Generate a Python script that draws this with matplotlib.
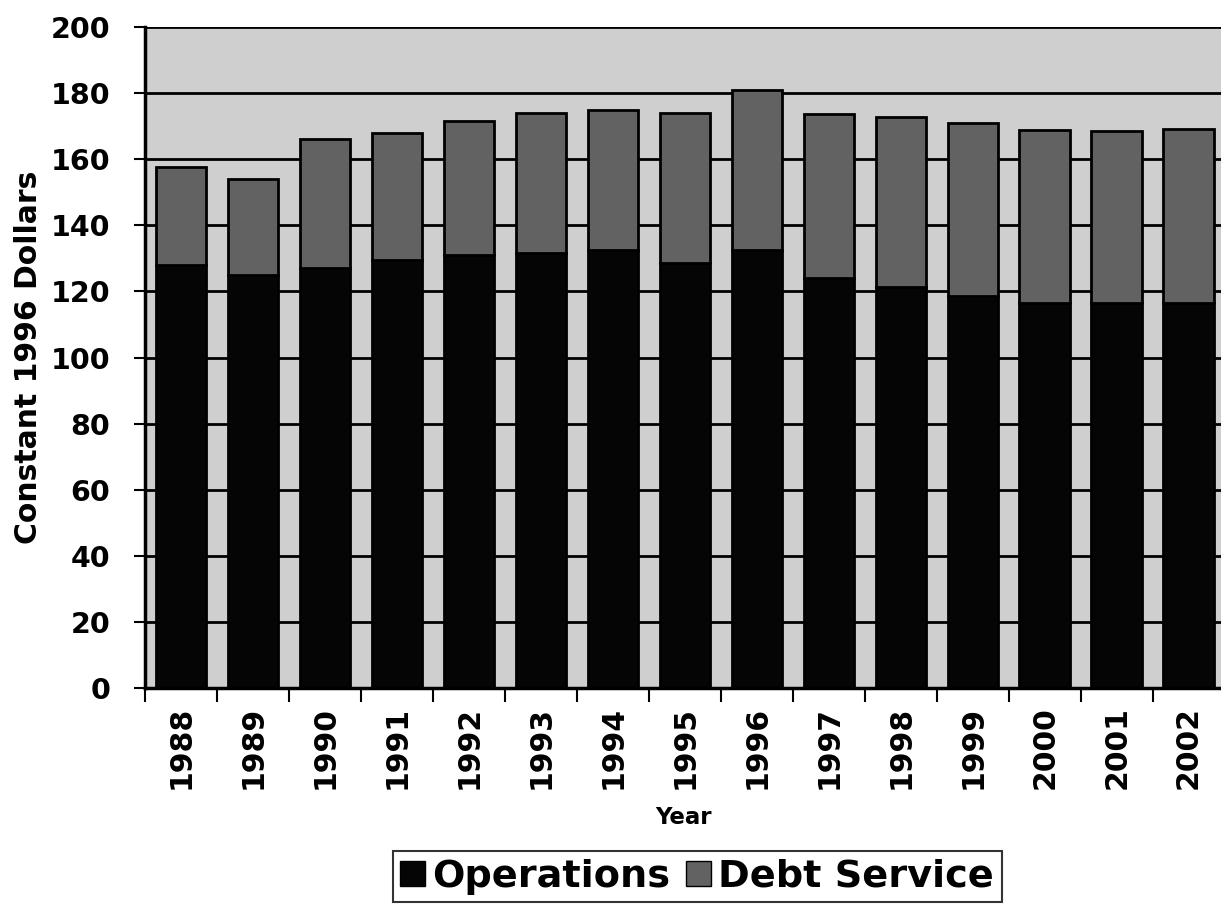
import numpy as np
import matplotlib.pyplot as plt
from matplotlib.patches import Patch

# ---- donnees (dollars constants 1996) ----
years = ["1988", "1989", "1990", "1991", "1992", "1993", "1994", "1995",
         "1996", "1997", "1998", "1999", "2000", "2001", "2002"]
operations = [128, 125, 127, 129.5, 131, 131.6, 132.5, 128.6,
              132.5, 124, 121.3, 118.6, 116.5, 116.5, 116.5]
totals = [157.6, 154, 166, 168, 171.6, 174, 175, 174,
          181, 173.7, 172.8, 171, 168.8, 168.5, 169]
debt_service = [t - o for t, o in zip(totals, operations)]

plt.rcParams['font.family'] = ['DejaVu Sans']
plt.rcParams['font.weight'] = 'bold'

fig = plt.figure(figsize=(12.21, 9.22), dpi=100)
ax = fig.add_axes([0.1188, 0.2538, 0.8812, 0.7169])

x = np.arange(len(years))
col_ops = "#050505"
col_debt = "#626262"

ax.set_facecolor("#cfcfcf")
ax.set_axisbelow(True)
ax.yaxis.grid(True, color="black", linewidth=2)

ax.bar(x, operations, width=0.7, color=col_ops, edgecolor="black", linewidth=2)
ax.bar(x, debt_service, width=0.7, bottom=operations, color=col_debt,
       edgecolor="black", linewidth=2)

ax.set_ylim(0, 200)
ax.set_xlim(-0.5, 14.45)
ax.set_yticks(np.arange(0, 201, 20))
ax.tick_params(axis='y', labelsize=20.5, width=1.5, length=8, pad=17)

# graduations entre les categories, libelles au centre
ax.set_xticks(x)
ax.set_xticklabels(years, rotation=90, fontsize=21.5)
ax.set_xticks(np.arange(-0.5, 14.5, 1), minor=True)
ax.tick_params(axis='x', which='major', length=0, pad=13)
ax.tick_params(axis='x', which='minor', length=10, width=1.5)

for s in ["top", "right"]:
    ax.spines[s].set_visible(False)
ax.spines["left"].set_linewidth(2.5)
ax.spines["bottom"].set_linewidth(2.5)

ax.set_ylabel("Constant 1996 Dollars", fontsize=21.5, fontweight="bold")
ax.yaxis.set_label_coords(-0.095, 0.5)
ax.set_xlabel("Year", fontsize=16.5, fontweight="bold", labelpad=12)

handles = [Patch(facecolor=col_ops, edgecolor="black"),
           Patch(facecolor=col_debt, edgecolor="black")]
leg = fig.legend(handles, ["Operations", "Debt Service"], ncol=2,
                 loc="center", bbox_to_anchor=(0.571, 0.049),
                 fontsize=27.5, handlelength=0.65, handleheight=0.65,
                 handletextpad=0.2, columnspacing=0.4,
                 fancybox=False, edgecolor="black", borderpad=0.2,
                 borderaxespad=0)
leg.get_frame().set_linewidth(1.5)
for t in leg.get_texts():
    t.set_fontweight("bold")

fig.savefig("out.png", dpi=100)
